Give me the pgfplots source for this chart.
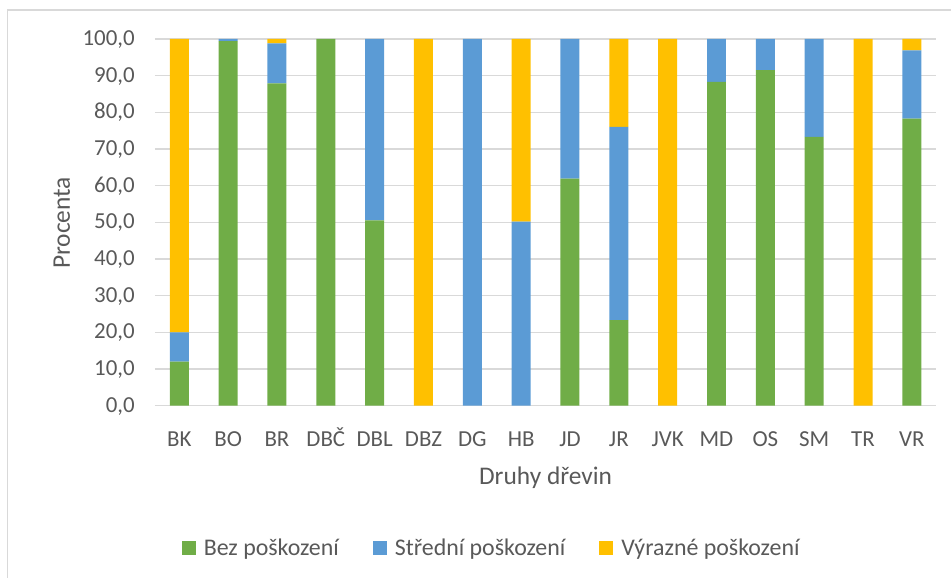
\documentclass[border=0pt]{standalone}
\usepackage{pgfplots}
\pgfplotsset{compat=1.18}
\usepackage{pgfplotstable}
\usepackage{fontspec}
\setmainfont{Carlito}
\definecolor{cgreen}{HTML}{70AD47}
\definecolor{cblue}{HTML}{5B9BD5}
\definecolor{cyellow}{HTML}{FFC000}
\definecolor{gridgray}{HTML}{D9D9D9}
\definecolor{textgray}{HTML}{595959}
\pgfplotstableread{
idx bez stredni vyrazne
0  12.0  8.0  80.0
1  99.4  0.6  0.0
2  87.9 10.9  1.2
3 100.0  0.0  0.0
4  50.5 49.5  0.0
5   0.0  0.0 100.0
6   0.0 100.0 0.0
7   0.0 50.2 49.8
8  61.9 38.1  0.0
9  23.3 52.7 24.0
10  0.0  0.0 100.0
11 88.3 11.7  0.0
12 91.5  8.5  0.0
13 73.3 26.7  0.0
14  0.0  0.0 100.0
15 78.3 18.6  3.1
}\datatab
\begin{document}
\begin{tikzpicture}
\begin{axis}[
  width=782bp, height=367bp, scale only axis,
  ybar stacked, bar width=19bp,
  xmin=-0.5, xmax=15.5, ymin=0, ymax=100,
  xtick={0,1,...,15},
  xticklabels={BK,BO,BR,DBČ,DBL,DBZ,DG,HB,JD,JR,JVK,MD,OS,SM,TR,VR},
  ytick={0,10,...,100},
  /pgf/number format/assume math mode=true,
  yticklabel style={/pgf/number format/fixed, /pgf/number format/fixed zerofill,
    /pgf/number format/precision=1, /pgf/number format/use comma,
    anchor=base east, inner sep=0pt, xshift=-20bp, yshift=-6.5bp},
  xticklabel style={anchor=base, inner sep=0pt, yshift=-41.3bp},
  tick label style={font=\fontsize{23}{28}\selectfont, text=textgray},
  major tick length=0pt,
  xtick style={draw=none}, ytick style={draw=none},
  axis line style={draw=none},
  ymajorgrids, grid style={color=gridgray, line width=1.5bp},
  clip=false,
  legend style={at={(rel axis cs:0.431,-0.387)}, anchor=center, draw=none,
    fill=none, font=\fontsize{24}{29}\selectfont, text=textgray,
    /tikz/every even column/.append style={column sep=32bp}},
  legend columns=3,
  legend image code/.code={\fill[#1] (0bp,-7bp) rectangle (14bp,7bp); \path (20bp,0bp);},
  legend cell align=left,
]
\draw[gridgray, line width=1.5bp] (rel axis cs:-0.18862,-0.46866) -- (rel axis cs:-0.18862,1.07902) -- (rel axis cs:1.01918,1.07902);
\addplot[fill=cgreen, draw=none] table[x=idx, y=bez] {\datatab};
\addplot[fill=cblue, draw=none] table[x=idx, y=stredni] {\datatab};
\addplot[fill=cyellow, draw=none] table[x=idx, y=vyrazne] {\datatab};
\legend{Bez poškození, Střední poškození, Výrazné poškození}
\node[rotate=90, text=textgray, font=\fontsize{25.5}{30}\selectfont] at (rel axis cs:-0.11893,0.4986) {Procenta};
\node[text=textgray, font=\fontsize{25.5}{30}\selectfont] at (rel axis cs:0.5,-0.19619) {Druhy dřevin};
\end{axis}
\path[use as bounding box] (current axis.south west) ++(-155bp,-172bp) rectangle ++(952bp,578bp);
\end{tikzpicture}
\end{document}
